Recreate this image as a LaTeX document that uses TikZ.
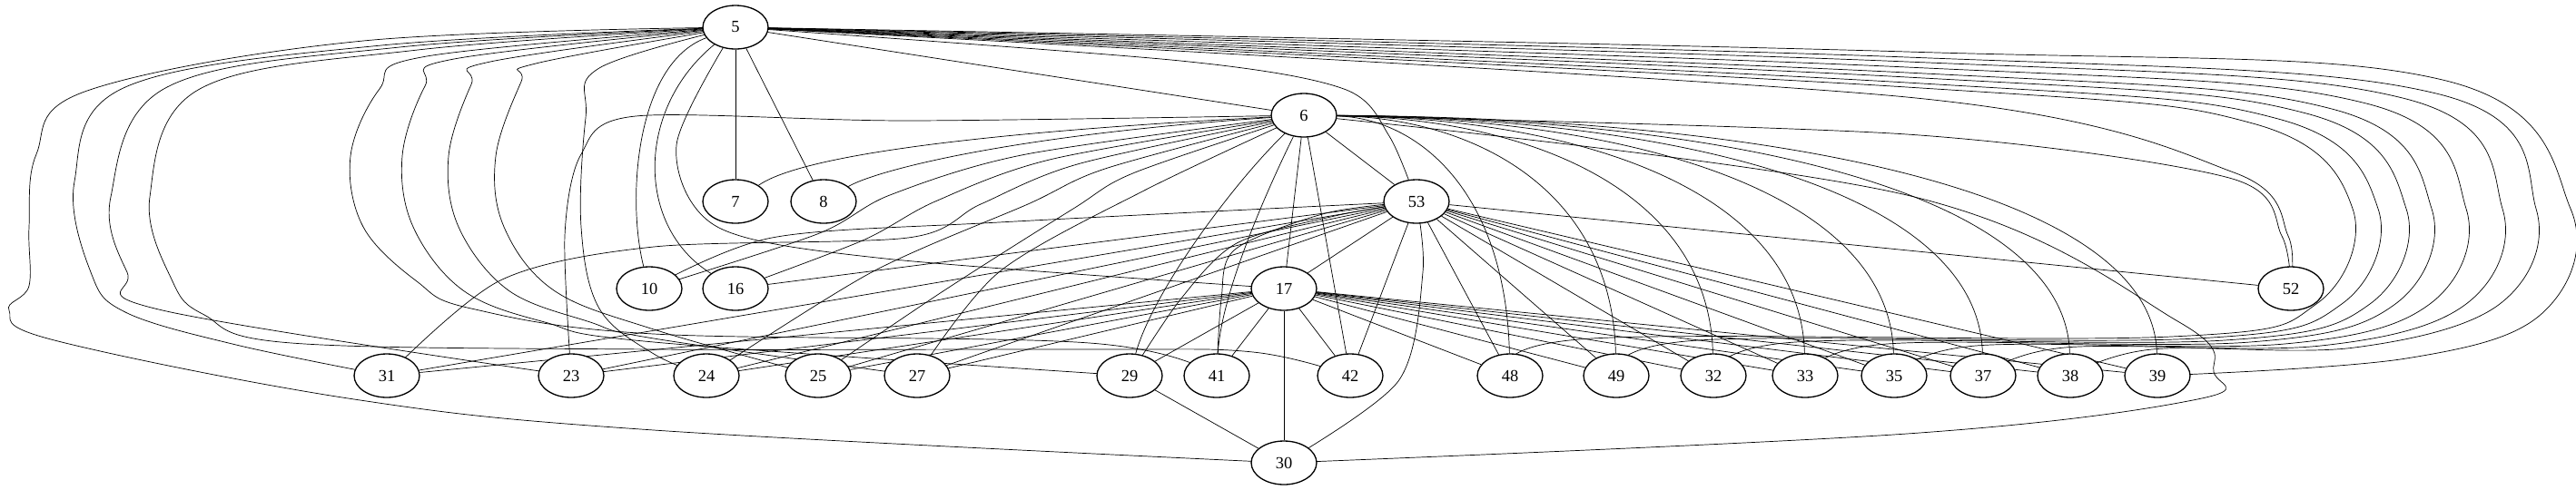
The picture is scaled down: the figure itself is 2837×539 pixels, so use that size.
\documentclass[tikz,border=0pt]{standalone}
\usepackage{fontspec}
\setmainfont{Liberation Serif}
\usetikzlibrary{shapes.geometric,backgrounds}

\tikzset{
  vertex/.style={ellipse, draw, fill=white, line width=0.75pt,
    minimum width=1.44cm, minimum height=0.96cm, inner sep=0pt,
    font=\fontsize{10.5}{12}\selectfont},
  link/.style={line width=0.7pt},
}

\begin{document}
\begin{tikzpicture}[x=0.02cm, y=-0.02cm]
    \useasboundingbox (0,0) rectangle (2837,539);

    % Upper nodes
    \node[vertex] (n5) at (810,30) {5};
    \node[vertex] (n6) at (1436,127) {6};
    \node[vertex] (n7) at (810,222) {7};
    \node[vertex] (n8) at (907,222) {8};
    \node[vertex] (n53) at (1560,222) {53};
    \node[vertex] (n10) at (715,318) {10};
    \node[vertex] (n16) at (810,318) {16};
    \node[vertex] (n17) at (1414,318) {17};
    \node[vertex] (n52) at (2523,318) {52};
    \node[vertex] (n30) at (1414,510) {30};

    % Bottom row
    \foreach \n/\x in {31/426, 23/629, 24/778, 25/901, 27/1010, 29/1244, 41/1340, 42/1487,
                       48/1663, 49/1780, 32/1887, 33/1988, 35/2086, 37/2184, 38/2280, 39/2376}
        \node[vertex] (n\n) at (\x,414) {\n};

    \begin{scope}[on background layer, link]
    % Straight edges
    \draw (n5) -- (n6);
    \draw (n5) -- (n7);
    \draw (n5) -- (n8);
    \draw (n6) -- (n53);
    \draw (n6) -- (n17);
    \draw (n6) -- (n42);
    \draw (n53) -- (n17);
    \draw (n17) -- (n30);
    \draw (n29) -- (n30);
    \foreach \t in {31,23,24,25,27,29,41,42,48,49,32,33,35,37,38,39}
        \draw (n17) -- (n\t);
    \foreach \t in {42,48,49,32,33,35,37,38,39,52,16,24,25,27,23,31}
        \draw (n53) -- (n\t);

    % Edges of 5 near the centre
    \draw plot[smooth] coordinates {(n5) (1300,67) (1480,98) (1530,150) (n53)};
    \draw plot[smooth] coordinates {(n5) (745,160) (790,250) (975,285) (n17)};
    \draw (n5) .. controls (700,70) and (690,220) .. (n10);
    \draw (n5) .. controls (700,120) and (700,250) .. (n16);

    % Edges of 5 round the left side
    \draw plot[smooth, tension=0.6] coordinates {(n5) (400,45) (96,100) (40,170) (32,250) (32,315)
        (10,342) (60,375) (390,440) (720,474) (n30)};
    \draw plot[smooth, tension=0.6] coordinates {(n5) (420,50) (138,96) (82,200) (100,300) (138,344) (260,380) (n31)};
    \draw plot[smooth, tension=0.6] coordinates {(n5) (440,52) (184,96) (122,217) (140,300) (179,342) (n23)};
    \draw plot[smooth, tension=0.6] coordinates {(n5) (460,55) (220,98) (165,217) (190,310) (225,347)
        (321,378) (720,385) (1200,385) (1380,388) (n42)};
    \draw plot[smooth, tension=0.6] coordinates {(n5) (470,62) (418,98) (386,172) (400,250) (459,310)
        (519,340) (720,368) (1200,378) (n41)};
    \draw plot[smooth, tension=0.6] coordinates {(n5) (500,65) (468,95) (443,172) (455,250) (510,320)
        (600,355) (720,377) (n29)};
    \draw plot[smooth, tension=0.6] coordinates {(n5) (540,68) (519,93) (494,172) (505,250) (560,320)
        (650,355) (720,373) (n27)};
    \draw plot[smooth, tension=0.6] coordinates {(n5) (590,70) (574,90) (546,172) (555,250) (610,320)
        (720,363) (n25)};
    \draw plot[smooth, tension=0.6] coordinates {(n5) (660,75) (645,130) (640,250) (660,340) (720,390) (n24)};

    % Edges of 5 round the right side
    \foreach \t/\xt/\xl/\yt/\yb in {48/1663/2591/96/371, 49/1780/2619/91/373, 32/1887/2650/85/375,
                                  33/1988/2678/80/377, 35/2086/2716/74/379, 37/2184/2756/68/381,
                                  38/2280/2793/63/383}
        \draw plot[smooth, tension=0.6] coordinates {(n5) (2100,\yt) ({\xl-110},{\yt+40}) (\xl,230)
            ({\xl-40},335) ({\xl-200},\yb) ({\xt+90},{\yb+2}) (n\t)};
    \draw plot[smooth, tension=0.6] coordinates {(n5) (2100,57) (2690,88) (2831,230) (2800,345) (2650,395) (n39)};
    \draw plot[smooth] coordinates {(n5) (2100,107) (2460,190) (2520,260) (n52)};

    % Edges of 6 to the left
    \draw (n6) .. controls (1000,150) and (870,180) .. (n7);
    \draw (n6) .. controls (1100,150) and (960,190) .. (n8);
    \draw plot[smooth] coordinates {(n6) (1130,170) (980,215) (900,258) (n10)};
    \draw plot[smooth] coordinates {(n6) (1160,175) (1030,222) (950,265) (n16)};
    \draw plot[smooth] coordinates {(n6) (1190,180) (1080,225) (1000,262) (720,272) (551,309) (n31)};
    \draw plot[smooth] coordinates {(n6) (1000,133) (700,128) (640,170) (622,260) (n23)};
    \draw plot[smooth] coordinates {(n6) (1220,185) (1132,225) (960,300) (n24)};
    \draw plot[smooth] coordinates {(n6) (1250,190) (1182,230) (1040,320) (n25)};
    \draw plot[smooth] coordinates {(n6) (1260,210) (1100,300) (n27)};
    \draw (n6) .. controls (1360,200) and (1270,320) .. (n29);
    \draw (n6) .. controls (1400,200) and (1345,320) .. (n41);

    % Edges of 6 to the right
    \foreach \t/\x in {48/1663, 49/1780, 32/1887, 33/1988, 35/2086, 37/2184, 38/2280, 39/2376}
        \draw (n6) .. controls ({1436+0.55*(\x-1436)},130) and ({\x-5},210) .. (n\t);
    \draw plot[smooth] coordinates {(n6) (2100,148) (2455,196) (2513,260) (n52)};
    \draw plot[smooth, tension=0.6] coordinates {(n6) (2100,215) (2400,355) (2438,410) (2420,440) (2100,478) (n30)};

    % Other edges of 53
    \draw plot[smooth] coordinates {(n53) (1100,245) (850,262) (n10)};
    \draw plot[smooth] coordinates {(n53) (1470,238) (1362,268) (1300,330) (n29)};
    \draw plot[smooth] coordinates {(n53) (1460,235) (1360,275) (1345,330) (n41)};
    \draw plot[smooth] coordinates {(n53) (1567,300) (1540,420) (n30)};
    \end{scope}
\end{tikzpicture}
\end{document}
